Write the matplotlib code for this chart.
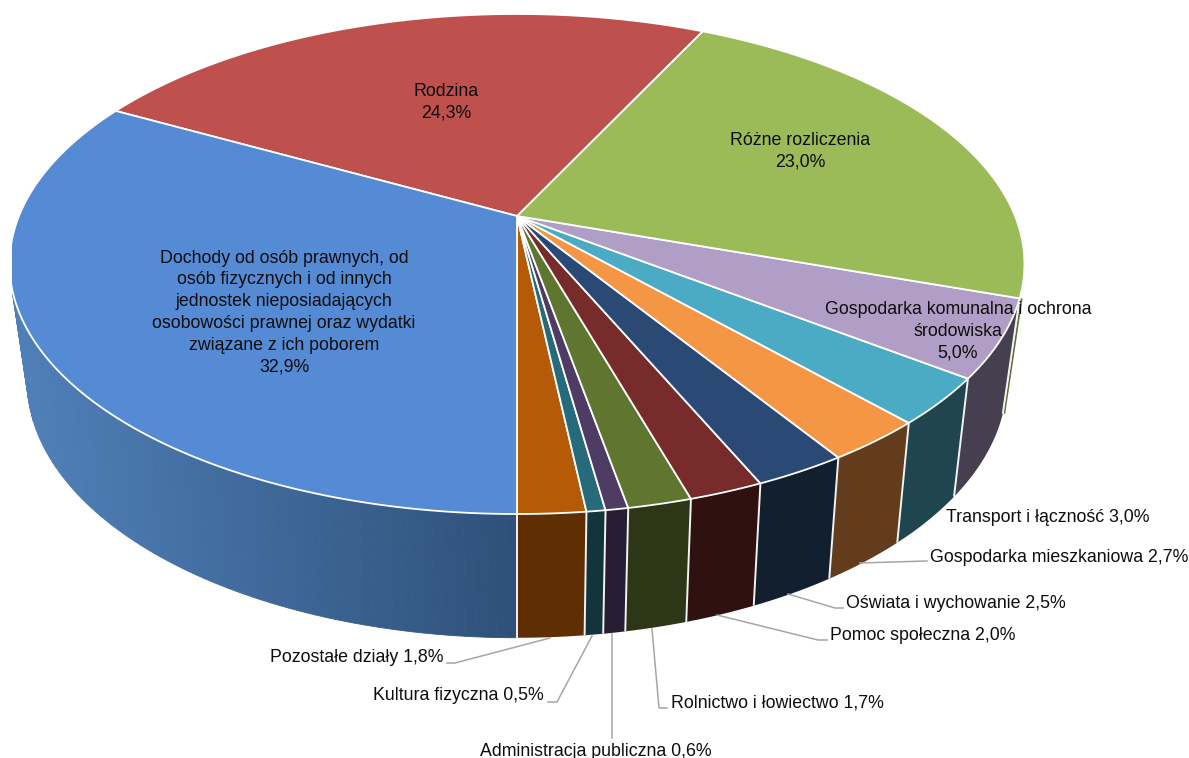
import numpy as np
import matplotlib
matplotlib.use('Agg')
import matplotlib.pyplot as plt

plt.rcParams['font.family'] = ['Liberation Sans', 'DejaVu Sans']

# idzie od dolu przeciwnie do wskazowek zegara
names = ['Pozostałe działy', 'Kultura fizyczna', 'Administracja publiczna',
         'Rolnictwo i łowiectwo', 'Pomoc społeczna', 'Oświata i wychowanie',
         'Gospodarka mieszkaniowa', 'Transport i łączność',
         'Gospodarka komunalna i ochrona\nśrodowiska', 'Różne rozliczenia', 'Rodzina',
         'Dochody od osób prawnych, od\nosób fizycznych i od innych\njednostek nieposiadających\nosobowości prawnej oraz wydatki\nzwiązane z ich poborem']
values = [1.8, 0.5, 0.6, 1.7, 2.0, 2.5, 2.7, 3.0, 5.0, 23.0, 24.3, 32.9]
top_colors = ['#B55A07', '#266A7C', '#4F3C64', '#5F7530', '#772B2A', '#2A4A75',
              '#F59645', '#4BAAC4', '#B09EC6', '#9BBB59', '#BE504D', '#558AD4']
side_colors = ['#5F2F03', '#14343D', '#271E33', '#2D3616', '#2F1110', '#121F2E',
               '#633C1D', '#1F464F', '#463F50', '#5E7040', '#7A302E', '#2E5078']
blue_left = '#4F7FB8'


def top_xy(t):
    u, v = np.sin(t), -np.cos(t)
    d = 1 + 0.192 * v
    return 517 + 498 * u / d, 216 - 240.8 * v / d


def bottom_xy(t):
    u, v = np.sin(t), -np.cos(t)
    d = 1 + 0.2 * v
    return 517 + 480 * u / d, 329 - 247 * v / d


fig = plt.figure(figsize=(11.89, 7.58), dpi=100)
# lewa strona kola jest w oryginale przycieta na x=12
ax = fig.add_axes([12 / 1189, 0, 1177 / 1189, 1])
ax.set_xlim(12, 1189)
ax.set_ylim(758, 0)
ax.axis('off')

edges = np.radians(np.concatenate([[0], np.cumsum(values)]) * 3.6)

# boki, od tylu do przodu zeby zielony nie zaslonil fioletowego
for i in range(len(values) - 1, -1, -1):
    a, b = edges[i], edges[i + 1]
    if a > np.radians(110) and b < np.radians(250):
        continue
    b = min(b, np.radians(110)) if i == 9 else b
    if i == 11:
        # gradient na duzym boku
        ts = np.linspace(a, b, 120)
        c1 = np.array(matplotlib.colors.to_rgb(blue_left))
        c2 = np.array(matplotlib.colors.to_rgb(side_colors[i]))
        for j in range(len(ts) - 1):
            x1, y1 = top_xy(ts[j:j + 2])
            x2, y2 = bottom_xy(ts[j:j + 2])
            f = np.clip((x1[0] - 20) / 497, 0, 1)
            col = c1 + (c2 - c1) * f
            ax.fill(np.r_[x1, x2[::-1]], np.r_[y1, y2[::-1]], color=col, lw=0.6)
    else:
        ts = np.linspace(a, b, 40)
        x1, y1 = top_xy(ts)
        x2, y2 = bottom_xy(ts)
        ax.fill(np.r_[x1, x2[::-1]], np.r_[y1, y2[::-1]], color=side_colors[i], lw=0)

# waski pasek zielonego boku za fioletowym
x1, y1 = top_xy(edges[9])
x2, y2 = bottom_xy(edges[9])
ax.plot([x1 + 2, x2 + 1.5], [y1, y2], color=side_colors[9], lw=1.3, solid_capstyle='butt')

# biale linie miedzy bokami
for e in edges[:10]:
    x1, y1 = top_xy(e)
    x2, y2 = bottom_xy(e)
    ax.plot([x1, x2], [y1, y2], color='#F2F2F2', lw=1.4, solid_capstyle='butt')

# wierzch
cx, cy = top_xy(0.0)[0], 216
for i in range(len(values)):
    ts = np.linspace(edges[i], edges[i + 1], max(int(values[i] * 12), 12))
    x, y = top_xy(ts)
    ax.fill(np.r_[cx, x], np.r_[cy, y], facecolor=top_colors[i], edgecolor='white',
            lw=1.3, joinstyle='round')

# etykiety w srodku
size = 12.8
pct = ['%.1f%%' % v for v in values]
pct = [p.replace('.', ',') for p in pct]
inner = {8: (958, 331), 9: (800, 151), 10: (446, 102), 11: (284, 312.5)}
for i, (x, y) in inner.items():
    ax.text(x, y, names[i] + '\n' + pct[i], ha='center', va='center', fontsize=size,
            color='#0D0D0D', linespacing=1.36)

# etykiety z zewnatrz: x, y, wyrownanie
outer = {7: (946, 517, 'left'), 6: (930, 557, 'left'), 5: (846, 603, 'left'),
         4: (830, 635, 'left'), 3: (671, 703, 'left'), 2: (596, 751, 'center'),
         1: (544, 696, 'right'), 0: (443, 658, 'right')}
for i, (x, y, ha) in outer.items():
    ax.text(x, y, names[i] + ' ' + pct[i], ha=ha, va='center', fontsize=size, color='#0D0D0D')

leaders = [([860, 927], [563, 561]),
           ([788, 835, 843], [594, 608, 608]),
           ([717, 818, 827], [615, 640, 640]),
           ([652, 659, 667], [629, 708, 708]),
           ([612, 612], [634, 738]),
           ([592, 557, 548], [636, 702, 702]),
           ([550, 455, 447], [638, 663, 663])]
for lx, ly in leaders:
    ax.plot(lx, ly, color='#A6A6A6', lw=1.1)

fig.savefig('out.png', dpi=100)
